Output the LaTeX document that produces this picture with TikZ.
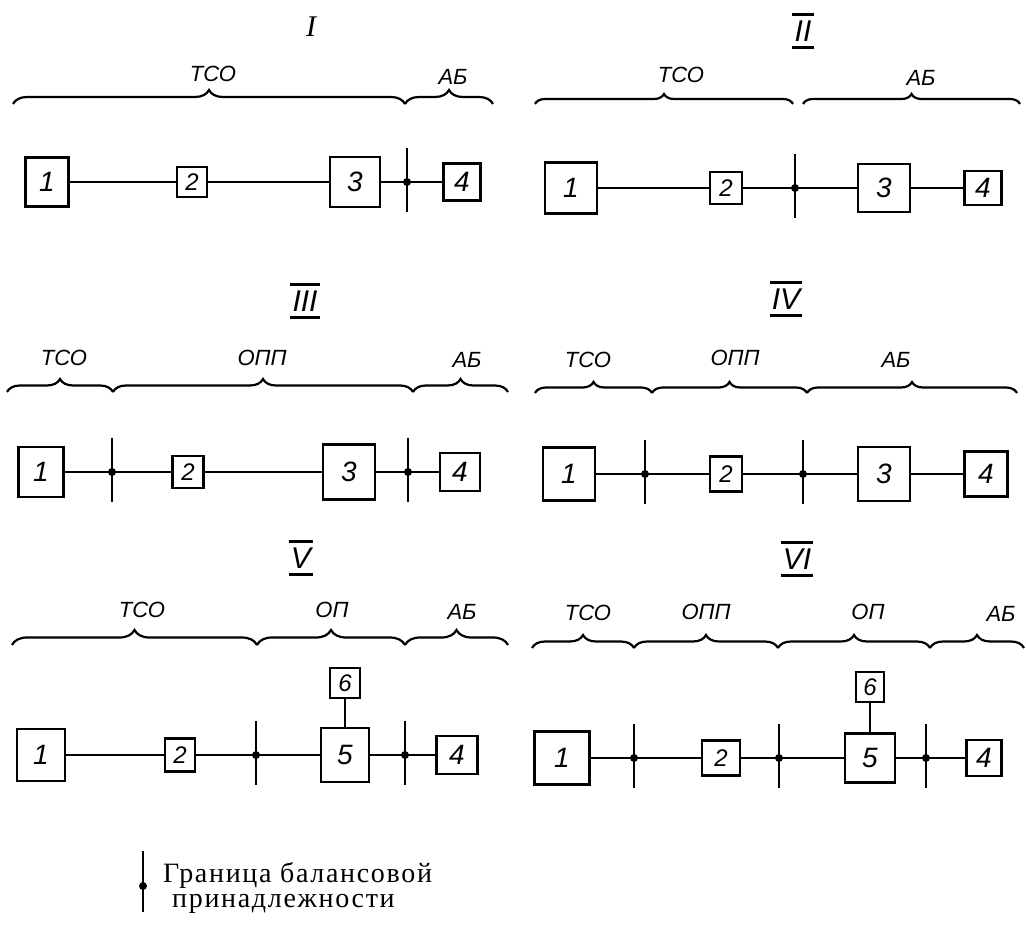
\documentclass[tikz,border=0pt]{standalone}
\usepackage{fontspec}
\setmainfont{Liberation Serif}
\newfontfamily\handfont{Liberation Sans}
\usetikzlibrary{decorations.pathreplacing}
\tikzset{
  blk/.style 2 args={draw, line width=2.6pt, inner sep=0pt, minimum width=#1, minimum height=#2, font=\handfont\itshape\fontsize{28}{28}\selectfont},
  sblk/.style 2 args={blk={#1}{#2}, font=\handfont\itshape\fontsize{24}{24}\selectfont},
  wire/.style={line width=2.1pt},
  dotn/.style={circle, fill, inner sep=0pt, minimum size=8pt},
  bline/.style={line width=2.3pt},
  brc/.style={decorate, decoration={brace, amplitude=#1}, line width=2.2pt},
  brc/.default=12pt,
  lbl/.style={font=\handfont\itshape\fontsize{22}{22}\selectfont, inner sep=0pt},
  rn/.style={font=\handfont\itshape\fontsize{30}{30}\selectfont, inner xsep=2pt, inner ysep=6pt},
  rnI/.style={font=\itshape\fontsize{30}{30}\selectfont, inner sep=0pt},
  bar/.style={line width=2.3pt},
  legend/.style={font=\fontsize{28}{25}\selectfont\addfontfeature{LetterSpace=6}, inner sep=0pt, align=left},
  bmark/.pic={\node[dotn] (-d) at (0,0) {}; \draw[bline] (0,-34) -- (0,30);},
}
\newcommand\rnbars[1]{\draw[bar] (#1.north west) -- (#1.north east); \draw[bar] (#1.south west) -- (#1.south east);}
\begin{document}
\begin{tikzpicture}[x=1pt,y=-1pt]
\useasboundingbox (0,0) rectangle (1026,928);

% ---------- Panel I ----------
\node[rnI] (t1) at (311,27) {I};
\node[lbl] (l1a) at (213,74) {ТСО};
\node[lbl] (l1b) at (453,77) {АБ};
\coordinate (p1a) at (13,104); \coordinate (p1b) at (405,104); \coordinate (p1c) at (493,104);
\draw[brc=14pt] (p1a) -- (p1b);
\draw[brc=14pt] (p1b) -- (p1c);
\node[blk={43}{49}] (a1) at (47,182) {1};
\node[sblk={30}{30}] (a2) at (192,182) {2};
\node[blk={50}{50}] (a3) at (355,182) {3};
\pic (aj1) at (407,182) {bmark};
\node[blk={37}{37}] (a4) at (462,182) {4};
\draw[wire] (a1) -- (a2);
\draw[wire] (a2) -- (a3);
\draw[wire] (a3) -- (a4);

% ---------- Panel II ----------
\node[rn] (t2) at (803,31) {II}; \rnbars{t2}
\node[lbl] (l2a) at (681,75) {ТСО};
\node[lbl] (l2b) at (921,78) {АБ};
\coordinate (p2a) at (535,104); \coordinate (p2b) at (793,104);
\coordinate (p2c) at (803,104); \coordinate (p2d) at (1020,104);
\draw[brc=10pt] (p2a) -- (p2b);
\draw[brc=10pt] (p2c) -- (p2d);
\node[blk={52}{51}] (c1) at (571,188) {1};
\node[sblk={32}{32}] (c2) at (726,188) {2};
\pic (cj1) at (795,188) {bmark};
\node[blk={52}{48}] (c3) at (884,188) {3};
\node[blk={37}{34}] (c4) at (983,188) {4};
\draw[wire] (c1) -- (c2);
\draw[wire] (c2) -- (c3);
\draw[wire] (c3) -- (c4);

% ---------- Panel III ----------
\node[rn] (t3) at (305,301) {III}; \rnbars{t3}
\node[lbl] (l3a) at (64,358) {ТСО};
\node[lbl] (l3b) at (262,358) {ОПП};
\node[lbl] (l3c) at (467,360) {АБ};
\coordinate (p3a) at (7,392); \coordinate (p3b) at (113,392);
\coordinate (p3c) at (413,392); \coordinate (p3d) at (508,392);
\draw[brc=13pt] (p3a) -- (p3b);
\draw[brc=13pt] (p3b) -- (p3c);
\draw[brc=13pt] (p3c) -- (p3d);
\node[blk={45}{50}] (d1) at (41,472) {1};
\pic (dj1) at (112,472) {bmark};
\node[sblk={31}{32}] (d2) at (188,472) {2};
\node[blk={52}{55}] (d3) at (349,472) {3};
\pic (dj2) at (408,472) {bmark};
\node[blk={40}{38}] (d4) at (460,472) {4};
\draw[wire] (d1) -- (d2);
\draw[wire] (d2) -- (d3);
\draw[wire] (d3) -- (d4);

% ---------- Panel IV ----------
\node[rn] (t4) at (786,299) {IV}; \rnbars{t4}
\node[lbl] (l4a) at (588,360) {ТСО};
\node[lbl] (l4b) at (735,358) {ОПП};
\node[lbl] (l4c) at (896,360) {АБ};
\coordinate (p4a) at (535,393); \coordinate (p4b) at (652,393);
\coordinate (p4c) at (807,393); \coordinate (p4d) at (1017,393);
\draw[brc=11pt] (p4a) -- (p4b);
\draw[brc=11pt] (p4b) -- (p4c);
\draw[brc=11pt] (p4c) -- (p4d);
\node[blk={52}{53}] (e1) at (569,474) {1};
\pic (ej1) at (645,474) {bmark};
\node[sblk={32}{35}] (e2) at (726,474) {2};
\pic (ej2) at (803,474) {bmark};
\node[blk={52}{54}] (e3) at (884,474) {3};
\node[blk={43}{45}] (e4) at (986,474) {4};
\draw[wire] (e1) -- (e2);
\draw[wire] (e2) -- (e3);
\draw[wire] (e3) -- (e4);

% ---------- Panel V ----------
\node[rn] (t5) at (301,558) {V}; \rnbars{t5}
\node[lbl] (l5a) at (142,610) {ТСО};
\node[lbl] (l5b) at (332,610) {ОП};
\node[lbl] (l5c) at (462,612) {АБ};
\coordinate (p5a) at (12,645); \coordinate (p5b) at (257,645);
\coordinate (p5c) at (405,645); \coordinate (p5d) at (508,645);
\draw[brc=15pt] (p5a) -- (p5b);
\draw[brc=15pt] (p5b) -- (p5c);
\draw[brc=15pt] (p5c) -- (p5d);
\node[sblk={30}{30}] (f6) at (345,683) {6};
\node[blk={48}{52}] (f1) at (41,755) {1};
\node[sblk={30}{33}] (f2) at (180,755) {2};
\pic (fj1) at (256,755) {bmark};
\node[blk={48}{54}] (f5) at (345,755) {5};
\pic (fj2) at (405,755) {bmark};
\node[blk={41}{38}] (f4) at (457,755) {4};
\draw[wire] (f1) -- (f2);
\draw[wire] (f2) -- (f5);
\draw[wire] (f5) -- (f4);
\draw[wire] (f6) -- (f5);

% ---------- Panel VI ----------
\node[rn] (t6) at (797,559) {VI}; \rnbars{t6}
\node[lbl] (l6a) at (588,613) {ТСО};
\node[lbl] (l6b) at (706,612) {ОПП};
\node[lbl] (l6c) at (868,612) {ОП};
\node[lbl] (l6d) at (1001,614) {АБ};
\coordinate (p6a) at (532,648); \coordinate (p6b) at (634,648);
\coordinate (p6c) at (778,648); \coordinate (p6d) at (930,648);
\coordinate (p6e) at (1024,648);
\draw[brc=13pt] (p6a) -- (p6b);
\draw[brc=13pt] (p6b) -- (p6c);
\draw[brc=13pt] (p6c) -- (p6d);
\draw[brc=13pt] (p6d) -- (p6e);
\node[sblk={28}{30}] (g6) at (870,687) {6};
\node[blk={55}{53}] (g1) at (562,758) {1};
\pic (gj1) at (634,758) {bmark};
\node[sblk={38}{35}] (g2) at (721,758) {2};
\pic (gj2) at (779,758) {bmark};
\node[blk={50}{49}] (g5) at (870,758) {5};
\pic (gj3) at (926,758) {bmark};
\node[blk={35}{36}] (g4) at (984,758) {4};
\draw[wire] (g1) -- (g2);
\draw[wire] (g2) -- (g5);
\draw[wire] (g5) -- (g4);
\draw[wire] (g6) -- (g5);

% ---------- Legend ----------
\node[dotn] (ld) at (143,886) {};
\draw[bline] ([yshift=35pt]ld.center) -- ([yshift=-26pt]ld.center);
\node[legend, anchor=base west] (lt) at (163,907) {Граница балансовой\\\hspace*{9pt}принадлежности};
\end{tikzpicture}
\end{document}
